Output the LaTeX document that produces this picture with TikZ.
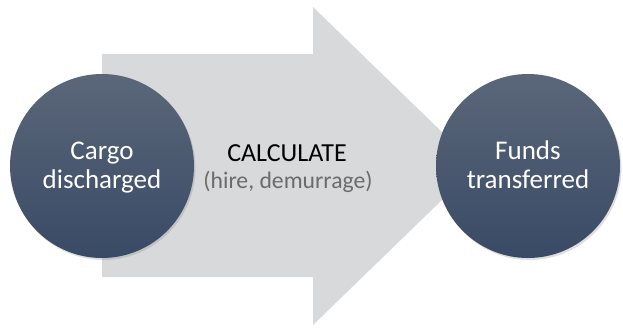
\documentclass[tikz,border=0pt]{standalone}
\usepackage{fontspec}
\setmainfont{Carlito}
\usetikzlibrary{shadows}
\definecolor{arrowgray}{HTML}{D8D9DB}
\definecolor{circtop}{HTML}{5B6779}
\definecolor{circbot}{HTML}{394A66}
\definecolor{subgray}{HTML}{6B6B6B}
\tikzset{
  stage/.style={circle, minimum size=184pt, inner sep=0pt, top color=circtop, bottom color=circbot,
    drop shadow={opacity=0.25, shadow xshift=1.5pt, shadow yshift=-2pt}},
  stagetext/.style={text=white, align=center, font=\fontsize{27}{28}\selectfont, inner sep=0pt, anchor=base},
  bigarrow/.style={fill=arrowgray, draw=none},
}
\begin{document}
\begin{tikzpicture}[x=1pt,y=-1pt]
\useasboundingbox (0,0) rectangle (623,330);
\fill[white] (0,0) rectangle (623,330);
\path[bigarrow] (102,54) -- (313,54) -- (313,7) -- (477,166) -- (313,325) -- (313,277) -- (102,277) -- cycle;
\node[stage] (cargo) at (102,166) {};
\node[stage] (funds) at (528,166) {};
\node[stagetext] (cargo1) at (102,159) {Cargo};
\node[stagetext] (cargo2) at (102,188) {discharged};
\node[stagetext] (funds1) at (528,159) {Funds};
\node[stagetext] (funds2) at (528,188) {transferred};
\node[anchor=base, inner sep=0pt, font=\fontsize{26}{28}\selectfont] (calc) at (287,161) {CALCULATE};
\node[anchor=base, inner sep=0pt, font=\fontsize{23.7}{28}\selectfont, text=subgray] (calcsub) at (288,188) {(hire, demurrage)};
\end{tikzpicture}
\end{document}
